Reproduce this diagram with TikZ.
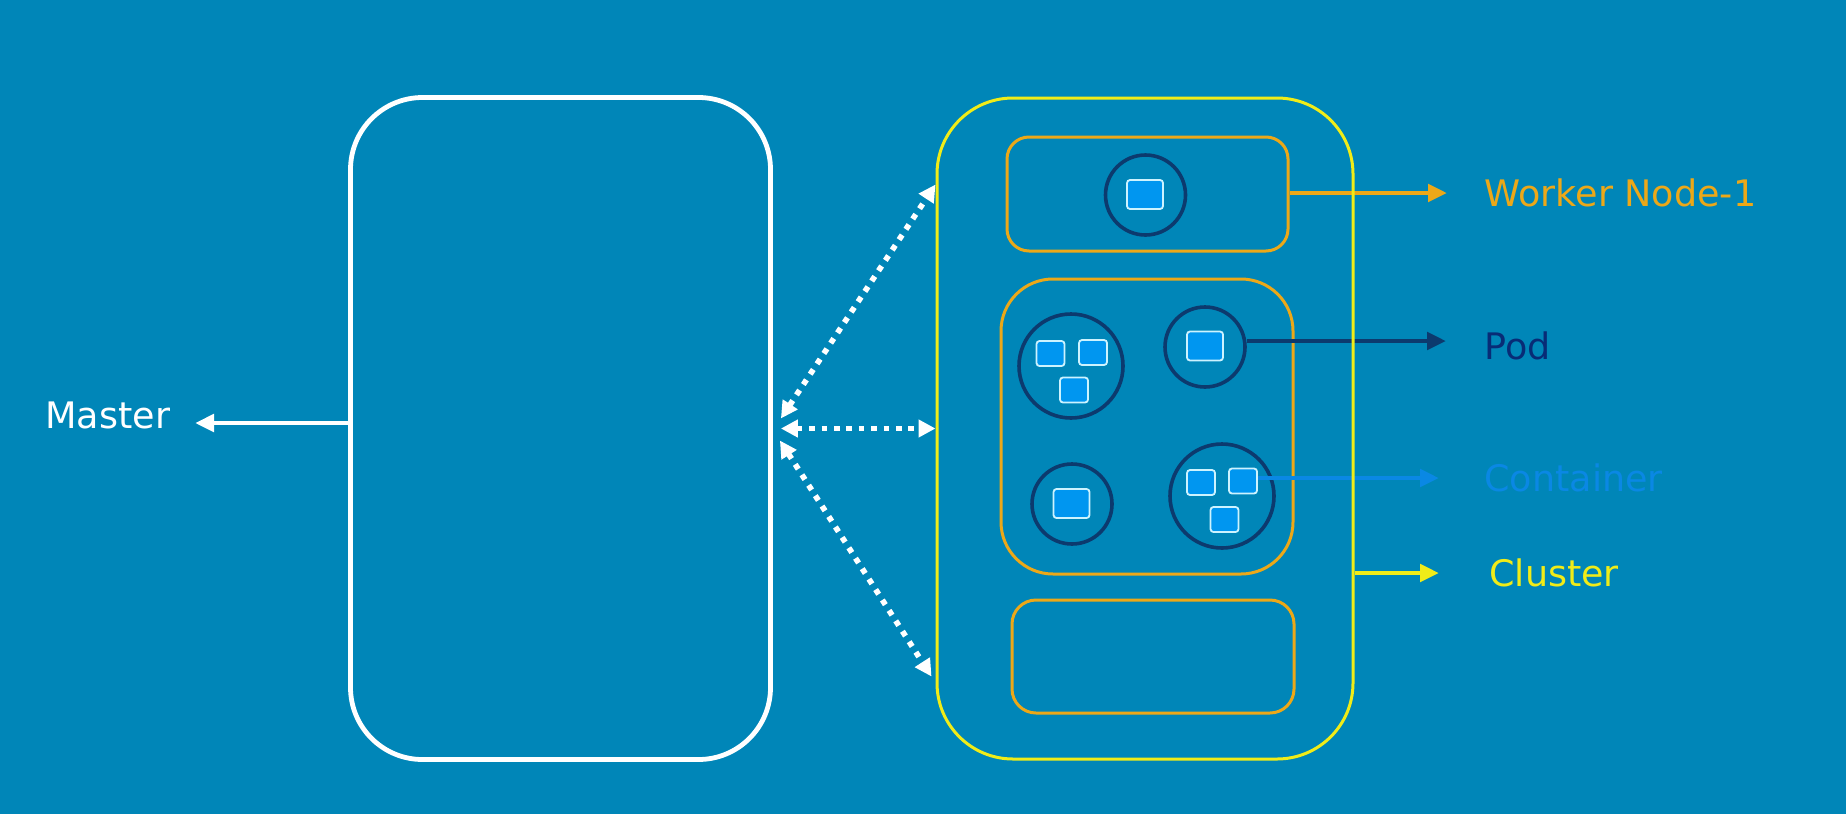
\documentclass[tikz,border=0pt]{standalone}
\usepackage{fontspec}
\setmainfont{DejaVu Sans}
\usetikzlibrary{arrows.meta}

\definecolor{bgblue}{RGB}{0,134,184}
\definecolor{kyellow}{RGB}{240,236,24}
\definecolor{korange}{RGB}{236,168,24}
\definecolor{knavy}{RGB}{12,58,110}
\definecolor{kblue}{RGB}{0,150,240}
\definecolor{kline}{RGB}{10,136,228}
\definecolor{kedge}{RGB}{205,243,255}
\definecolor{podtext}{RGB}{8,44,118}

\begin{document}
\begin{tikzpicture}[x=0.5pt, y=-0.5pt,
        box/.style={draw, rectangle, inner sep=0pt},
        pod/.style={draw=knavy, circle, line width=1.8pt, inner sep=0pt},
        ctr/.style={draw=kedge, fill=kblue, rectangle, rounded corners=1.5pt, line width=0.9pt,
            inner sep=0pt, minimum width=14pt, minimum height=12.5pt},
        bigctr/.style={ctr, minimum width=18pt, minimum height=14.5pt},
        lbl/.style={anchor=base west, inner sep=0pt, font=\fontsize{18.25pt}{22pt}\selectfont},
        tag/.style={line width=2.4pt, -{Triangle[length=9.5pt, width=8.5pt]}},
        link/.style={white, line width=2.8pt, dash pattern=on 2.8pt off 3.4pt,
            {Triangle[length=8.5pt, width=8.5pt]}-{Triangle[length=8.5pt, width=8.5pt]}}]
        \fill[bgblue] (0,0) rectangle (1846,814);
        % \draw[help lines, step=100] (0,0) grid (1846,814);

        \node[box, draw=white, line width=2.4pt, rounded corners=36pt, minimum width=210pt, minimum height=331pt] (master) at (560.5,428.5) {};

        \node[box, draw=korange, line width=1.5pt, rounded corners=11pt, minimum width=140.5pt, minimum height=57pt] (wn1) at (1147.5,194) {};
        \node[box, draw=korange, line width=1.5pt, rounded corners=26pt, minimum width=146pt, minimum height=147.5pt] (wn2) at (1147,426.5) {};
        \node[box, draw=korange, line width=1.5pt, rounded corners=12pt, minimum width=141pt, minimum height=56.5pt] (wn3) at (1153,656.5) {};

        \node[pod, minimum size=40pt] (p1) at (1145.5,195) {};
        \node[pod, minimum size=52pt] (p2) at (1071,366) {};
        \node[pod, minimum size=40pt] (p3) at (1205,347) {};
        \node[pod, minimum size=40pt] (p4) at (1072,504) {};
        \node[pod, minimum size=52pt] (p5) at (1222,496) {};

        \node[bigctr] (c1) at (1145,194.5) {};
        \node[bigctr] (c3) at (1205,346) {};
        \node[bigctr] (c4) at (1071.5,503.5) {};
        \node[ctr] (c2a) at (1050.5,353.5) {};
        \node[ctr] (c2b) at (1093,352.5) {};
        \node[ctr] (c2c) at (1074,390) {};
        \node[ctr] (c5a) at (1201,482.5) {};
        \node[ctr] (c5b) at (1243,481) {};
        \node[ctr] (c5c) at (1224.5,519.5) {};

        \node[lbl, white] (mastertxt) at (45,428) {Master};
        \node[lbl, korange] (wn1txt) at (1484,206) {Worker Node-1};
        \node[lbl, podtext] (podtxt) at (1484,359) {Pod};
        \node[lbl, kline] (ctrtxt) at (1484,491) {Container};
        \node[lbl, kyellow] (clutxt) at (1489,586) {Cluster};

        \coordinate (mastip) at (195,423);
        \coordinate (wn1tip) at (1447,193);
        \coordinate (podtip) at (1446,341);
        \coordinate (ctrtip) at (1439,478);
        \coordinate (clutip) at (1439,573);

        \draw[tag, korange] (wn1.east |- wn1tip) -- (wn1tip);
        \draw[tag, knavy] (p3.east |- podtip) -- (podtip);
        \draw[tag, kline] (c5b.east |- ctrtip) -- (ctrtip);

        \node[box, draw=kyellow, line width=1.5pt, rounded corners=38pt, minimum width=208pt, minimum height=330.5pt] (cluster) at (1145,428.5) {};

        \draw[tag, kyellow] (cluster.east |- clutip) -- (clutip);
        \draw[tag, white] (master.west |- mastip) -- (mastip);

        \draw[link] ([xshift=4pt, yshift=5pt]master.east) -- ([yshift=122pt]cluster.west);
        \draw[link] ([xshift=4pt]master.east) -- (cluster.west);
        \draw[link] ([xshift=3.5pt, yshift=-6pt]master.east) -- ([xshift=-2pt, yshift=-124pt]cluster.west);
    \end{tikzpicture}
\end{document}
